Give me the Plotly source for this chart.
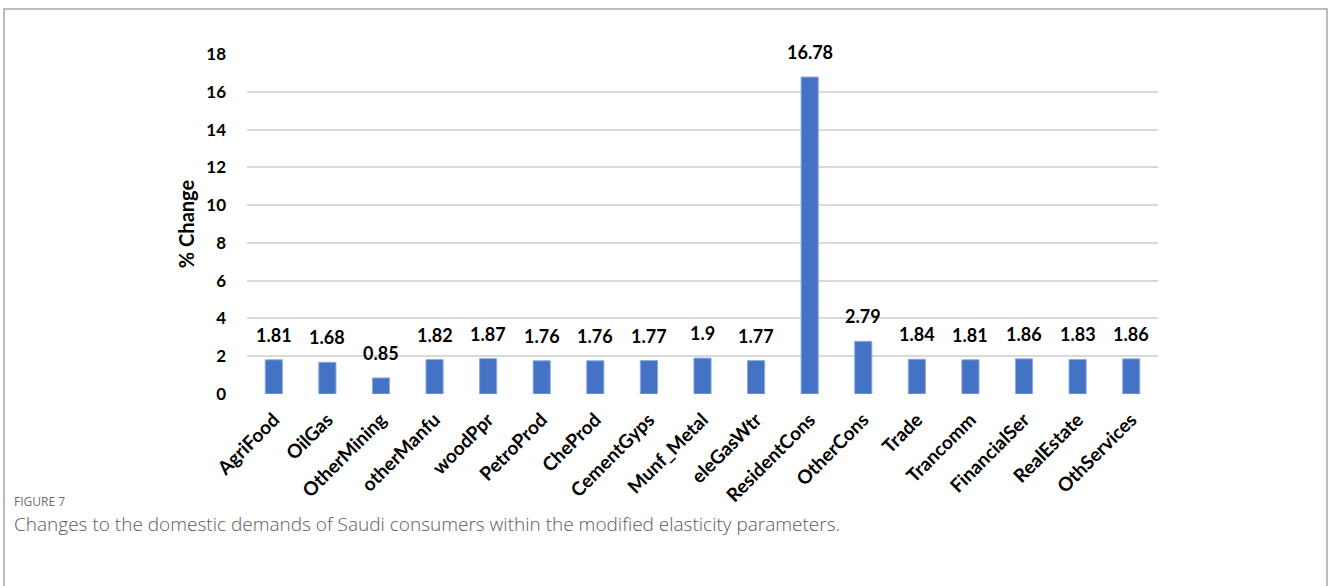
import plotly.graph_objects as go

categories = ["AgriFood", "OilGas", "OtherMining", "otherManfu", "woodPpr", "PetroProd",
              "CheProd", "CementGyps", "Munf_Metal", "eleGasWtr", "ResidentCons", "OtherCons",
              "Trade", "Trancomm", "FinancialSer", "RealEstate", "OthServices"]
values = [1.81, 1.68, 0.85, 1.82, 1.87, 1.76, 1.76, 1.77, 1.9, 1.77, 16.78, 2.79,
          1.84, 1.81, 1.86, 1.83, 1.86]
value_labels = ["1.81", "1.68", "0.85", "1.82", "1.87", "1.76", "1.76", "1.77", "1.9", "1.77",
                "16.78", "2.79", "1.84", "1.81", "1.86", "1.83", "1.86"]
y_ticks = [0, 2, 4, 6, 8, 10, 12, 14, 16, 18]

W, H = 1328, 586
L, R, T, B = 247, 170, 54, 192
PW, PH = W - L - R, H - T - B


def px_x(px):
    return (px - L) / PW


def px_y(py):
    return (H - B - py) / PH


fig = go.Figure()
fig.add_trace(go.Bar(
    x=categories, y=values, width=0.32,
    marker=dict(color="#4472C4", line=dict(color="#8FAADC", width=1)),
    hoverinfo="x+y",
))

for c, v, t in zip(categories, values, value_labels):
    fig.add_annotation(x=c, y=v, text=f"<b>{t}</b>", showarrow=False, yanchor="bottom", yshift=12,
                       font=dict(family="Lato", size=18, color="#000000"))

fig.update_layout(
    width=W, height=H,
    margin=dict(l=L, r=R, t=T, b=B, pad=0),
    paper_bgcolor="white", plot_bgcolor="white",
    showlegend=False,
    font=dict(family="Lato", color="#000000"),
    xaxis=dict(tickangle=-45, showgrid=False, showline=False, zeroline=False,
               tickfont=dict(family="Lato", size=19, color="#000000", weight="bold"),
               ticks="", ticklabelstandoff=10),
    yaxis=dict(range=[0, 18], tickvals=y_ticks, showgrid=True, gridcolor="#D9D9D9",
               gridwidth=1.5, zeroline=False, showline=False,
               tickfont=dict(family="Lato", size=17, color="#000000", weight="bold"),
               ticks="", ticklabelstandoff=20,
               title=dict(text="<b>% Change</b>", font=dict(family="Lato", size=20, color="#000000"),
                          standoff=6)),
)

# outer figure frame (open at the bottom)
fig.add_shape(type="path", xref="paper", yref="paper",
              path=f"M {px_x(4)} {px_y(600)} L {px_x(4)} {px_y(9)} "
                   f"L {px_x(1327)} {px_y(9)} L {px_x(1327)} {px_y(600)}",
              line=dict(color="#A6A6A6", width=1.5))

fig.add_annotation(xref="paper", yref="paper", x=px_x(12), y=px_y(501),
                   text="FIGURE 7", showarrow=False, xanchor="left", yanchor="middle",
                   font=dict(family="Open Sans", size=12, color="#6E6E6E"))
fig.add_annotation(xref="paper", yref="paper", x=px_x(12), y=px_y(524),
                   text="Changes to the domestic demands of Saudi consumers within the modified elasticity parameters.",
                   showarrow=False, xanchor="left", yanchor="middle",
                   font=dict(family="Open Sans", size=19, color="#5A5A5A", weight=300))

fig.write_html("out.html")
